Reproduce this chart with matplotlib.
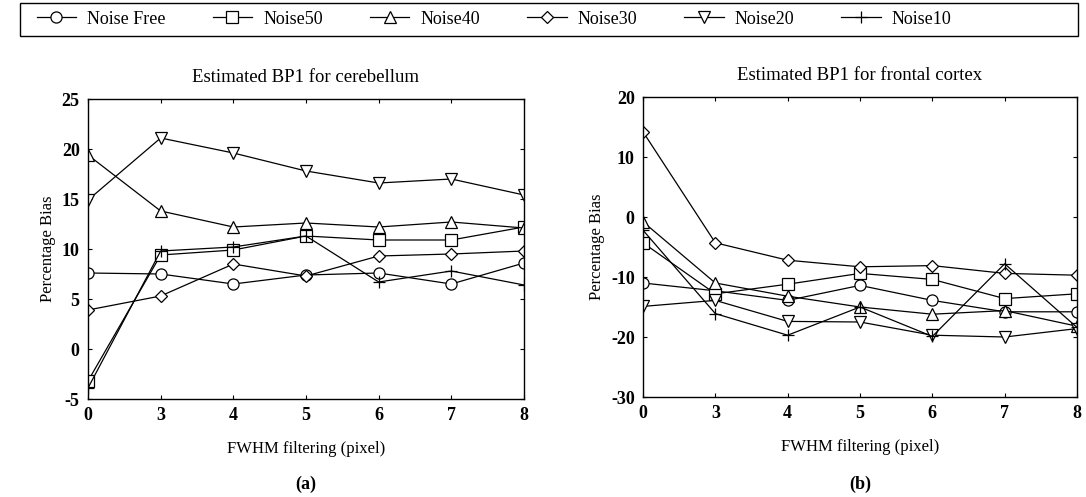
import numpy as np
import matplotlib
matplotlib.use('Agg')
import matplotlib.pyplot as plt
from matplotlib.lines import Line2D
from matplotlib.patches import Rectangle

plt.rcParams['font.family'] = ['Liberation Serif', 'DejaVu Serif']
plt.rcParams['axes.unicode_minus'] = False

# ── Data ───────────────────────────────────────────────────────────────────────
fwhm = ['0', '3', '4', '5', '6', '7', '8']
series_names = ['Noise Free', 'Noise50', 'Noise40', 'Noise30', 'Noise20', 'Noise10']
markers = ['o', 's', '^', 'D', 'v', '+']

cereb_free  = [7.6, 7.5, 6.5, 7.4, 7.6, 6.5, 8.6]
cereb_n50   = [-3.2, 9.4, 9.9, 11.3, 10.9, 10.9, 12.2]
cereb_n40   = [19.4, 13.8, 12.2, 12.6, 12.2, 12.7, 12.1]
cereb_n30   = [3.9, 5.3, 8.5, 7.3, 9.3, 9.5, 9.8]
cereb_n20   = [14.9, 21.1, 19.6, 17.8, 16.6, 17.0, 15.4]
cereb_n10   = [-3.9, 9.8, 10.2, 11.3, 6.7, 7.8, 6.4]

front_free  = [-11.0, -12.3, -13.9, -11.4, -13.9, -15.8, -15.8]
front_n50   = [-4.3, -12.8, -11.2, -9.4, -10.4, -13.6, -12.8]
front_n40   = [-0.8, -11.0, -13.2, -15.0, -16.2, -15.6, -18.2]
front_n30   = [14.2, -4.3, -7.2, -8.3, -8.1, -9.4, -9.7]
front_n20   = [-14.9, -13.9, -17.4, -17.5, -19.7, -20.0, -18.6]
front_n10   = [-2.2, -16.1, -19.7, -15.0, -19.9, -7.8, -18.4]

cereb = [cereb_free, cereb_n50, cereb_n40, cereb_n30, cereb_n20, cereb_n10]
front = [front_free, front_n50, front_n40, front_n30, front_n20, front_n10]


def marker_style(m):
    return dict(marker=m, ms=8 if m != 'D' else 6,
                mfc='white' if m != '+' else 'black', mec='black', mew=0.9)


def draw_panel(ax, data, title, ylim, yticks):
    x = np.arange(len(fwhm))
    for vals, m in zip(data, markers):
        ax.plot(x, vals, color='black', lw=0.9, **marker_style(m))
    ax.set_xlim(0, len(fwhm) - 1)
    ax.set_ylim(*ylim)
    ax.set_xticks(x)
    ax.set_xticklabels(fwhm)
    ax.set_yticks(yticks)
    ax.tick_params(direction='in', length=3, top=True, right=True,
                   labelsize=13, pad=6)
    for lab in ax.get_xticklabels() + ax.get_yticklabels():
        lab.set_fontweight('bold')
    ax.set_title(title, fontsize=13.5, pad=12)
    ax.set_xlabel('FWHM filtering (pixel)', fontsize=12, labelpad=12)
    ax.set_ylabel('Percentage Bias', fontsize=12, labelpad=4)
    for s in ax.spines.values():
        s.set_linewidth(1.0)


fig = plt.figure(figsize=(10.86, 4.97), dpi=100)
ax1 = fig.add_axes([88 / 1086, 1 - 399 / 497, 436 / 1086, 300 / 497])
ax2 = fig.add_axes([643 / 1086, 1 - 397 / 497, 434 / 1086, 300 / 497])

draw_panel(ax1, cereb, 'Estimated BP1 for cerebellum', (-5, 25), range(-5, 26, 5))
draw_panel(ax2, front, 'Estimated BP1 for frontal cortex', (-30, 20), range(-30, 21, 10))

fig.text(306 / 1086, 1 - 484 / 497, '(a)', ha='center', va='center',
         fontsize=13, fontweight='bold')
fig.text(860 / 1086, 1 - 484 / 497, '(b)', ha='center', va='center',
         fontsize=13, fontweight='bold')

# legend box across the top
fig.patches.append(Rectangle((20 / 1086, 1 - 36 / 497), 1058 / 1086, 33 / 497,
                             transform=fig.transFigure, fill=False,
                             edgecolor='black', lw=1.0))
handles = [Line2D([], [], color='black', lw=0.9, **marker_style(m)) for m in markers]
fig.legend(handles, series_names, ncol=6, loc='center',
           bbox_to_anchor=(494 / 1086, 1 - 19 / 497),
           fontsize=13, frameon=False,
           handlelength=2.2, columnspacing=2.6, handletextpad=0.6)

fig.savefig('out.png', dpi=100)
